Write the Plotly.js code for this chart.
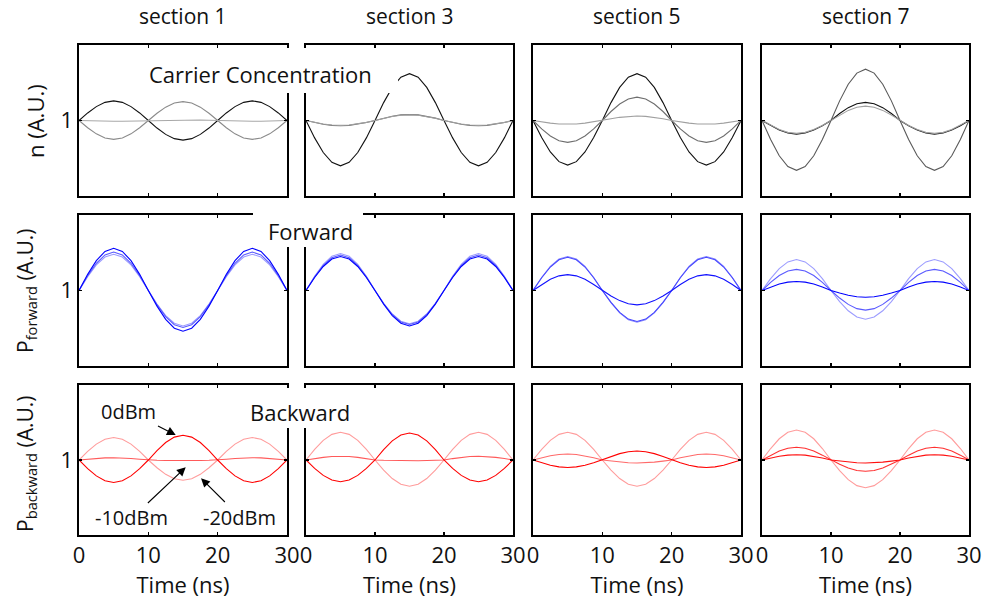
<!DOCTYPE html>
<html>
<head>
<meta charset="utf-8">
<script src="https://cdn.plot.ly/plotly-3.0.1.min.js"></script>
<style>html,body{margin:0;padding:0;background:#fff;}#chart{width:984px;height:603px;}</style>
</head>
<body>
<div id="chart"></div>
<script>
// ---- data ----
const time = [0,1.25,2.5,3.75,5,6.25,7.5,8.75,10,11.25,12.5,13.75,15,16.25,17.5,18.75,20,21.25,22.5,23.75,25,26.25,27.5,28.75,30];
const sectionTitles = ['section 1','section 3','section 5','section 7'];
const xTickVals = [0,10,20,30];
const yTickVals = [1];

// carrier concentration n (row 1)
const n_s1_a = [1,1.100,1.184,1.240,1.260,1.240,1.184,1.100,1,0.900,0.816,0.760,0.740,0.760,0.816,0.900,1,1.100,1.184,1.240,1.260,1.240,1.184,1.100,1];
const n_s1_b = [1,0.904,0.823,0.769,0.750,0.769,0.823,0.904,1,1.096,1.177,1.231,1.250,1.231,1.177,1.096,1,0.904,0.823,0.769,0.750,0.769,0.823,0.904,1];
const n_s1_c = [1,0.996,0.993,0.991,0.990,0.991,0.993,0.996,1,1.004,1.007,1.009,1.010,1.009,1.007,1.004,1,0.996,0.993,0.991,0.990,0.991,0.993,0.996,1];
const n_s3_a = [1,0.770,0.576,0.446,0.400,0.446,0.576,0.770,1,1.237,1.438,1.573,1.620,1.573,1.438,1.237,1,0.770,0.576,0.446,0.400,0.446,0.576,0.770,1];
const n_s3_b = [1,0.973,0.951,0.935,0.930,0.935,0.951,0.973,1,1.031,1.057,1.074,1.080,1.074,1.057,1.031,1,0.973,0.951,0.935,0.930,0.935,0.951,0.973,1];
const n_s3_c = [1,0.975,0.954,0.940,0.935,0.940,0.954,0.975,1,1.029,1.053,1.069,1.075,1.069,1.053,1.029,1,0.975,0.954,0.940,0.935,0.940,0.954,0.975,1];
const n_s5_a = [1,0.774,0.583,0.455,0.410,0.455,0.583,0.774,1,1.237,1.438,1.573,1.620,1.573,1.438,1.237,1,0.774,0.583,0.455,0.410,0.455,0.583,0.774,1];
const n_s5_b = [1,0.889,0.795,0.732,0.710,0.732,0.795,0.889,1,1.119,1.219,1.286,1.310,1.286,1.219,1.119,1,0.889,0.795,0.732,0.710,0.732,0.795,0.889,1];
const n_s5_c = [1,0.981,0.965,0.954,0.950,0.954,0.965,0.981,1,1.023,1.042,1.055,1.060,1.055,1.042,1.023,1,0.981,0.965,0.954,0.950,0.954,0.965,0.981,1];
const n_s7_a = [1,0.747,0.533,0.390,0.340,0.390,0.533,0.747,1,1.260,1.481,1.628,1.680,1.628,1.481,1.260,1,0.747,0.533,0.390,0.340,0.390,0.533,0.747,1];
const n_s7_b = [1,0.931,0.873,0.834,0.820,0.834,0.873,0.931,1,1.092,1.170,1.222,1.240,1.222,1.170,1.092,1,0.931,0.873,0.834,0.820,0.834,0.873,0.931,1];
const n_s7_c = [1,0.935,0.880,0.843,0.830,0.843,0.880,0.935,1,1.073,1.134,1.176,1.190,1.176,1.134,1.073,1,0.935,0.880,0.843,0.830,0.843,0.880,0.935,1];

// forward power (row 2)
const pf_s1_a = [1,1.214,1.396,1.517,1.560,1.517,1.396,1.214,1,0.793,0.618,0.501,0.460,0.501,0.618,0.793,1,1.214,1.396,1.517,1.560,1.517,1.396,1.214,1];
const pf_s1_b = [1,1.195,1.361,1.471,1.510,1.471,1.361,1.195,1,0.812,0.654,0.547,0.510,0.547,0.654,0.812,1,1.195,1.361,1.471,1.510,1.471,1.361,1.195,1];
const pf_s1_c = [1,1.184,1.339,1.444,1.480,1.444,1.339,1.184,1,0.820,0.668,0.566,0.530,0.566,0.668,0.820,1,1.184,1.339,1.444,1.480,1.444,1.339,1.184,1];
const pf_s3_a = [1,1.172,1.318,1.416,1.450,1.416,1.318,1.172,1,0.820,0.668,0.566,0.530,0.566,0.668,0.820,1,1.172,1.318,1.416,1.450,1.416,1.318,1.172,1];
const pf_s3_b = [1,1.180,1.332,1.434,1.470,1.434,1.332,1.180,1,0.828,0.682,0.584,0.550,0.584,0.682,0.828,1,1.180,1.332,1.434,1.470,1.434,1.332,1.180,1];
const pf_s3_c = [1,1.188,1.346,1.453,1.490,1.453,1.346,1.188,1,0.831,0.689,0.593,0.560,0.593,0.689,0.831,1,1.188,1.346,1.453,1.490,1.453,1.346,1.188,1];
const pf_s5_a = [1,1.080,1.148,1.194,1.210,1.194,1.148,1.080,1,0.927,0.866,0.824,0.810,0.824,0.866,0.927,1,1.080,1.148,1.194,1.210,1.194,1.148,1.080,1];
const pf_s5_b = [1,1.169,1.311,1.407,1.440,1.407,1.311,1.169,1,0.843,0.710,0.621,0.590,0.621,0.710,0.843,1,1.169,1.311,1.407,1.440,1.407,1.311,1.169,1];
const pf_s5_c = [1,1.172,1.318,1.416,1.450,1.416,1.318,1.172,1,0.839,0.703,0.612,0.580,0.612,0.703,0.839,1,1.172,1.318,1.416,1.450,1.416,1.318,1.172,1];
const pf_s7_a = [1,1.046,1.085,1.111,1.120,1.111,1.085,1.046,1,0.966,0.936,0.917,0.910,0.917,0.936,0.966,1,1.046,1.085,1.111,1.120,1.111,1.085,1.046,1];
const pf_s7_b = [1,1.107,1.198,1.259,1.280,1.259,1.198,1.107,1,0.900,0.816,0.760,0.740,0.760,0.816,0.900,1,1.107,1.198,1.259,1.280,1.259,1.198,1.107,1];
const pf_s7_c = [1,1.157,1.290,1.379,1.410,1.379,1.290,1.157,1,0.854,0.731,0.649,0.620,0.649,0.731,0.854,1,1.157,1.290,1.379,1.410,1.379,1.290,1.157,1];

// backward power (row 3)
const pb_s1_a = [1,0.885,0.788,0.723,0.700,0.723,0.788,0.885,1,1.126,1.233,1.305,1.330,1.305,1.233,1.126,1,0.885,0.788,0.723,0.700,0.723,0.788,0.885,1];
const pb_s1_b = [1,1.011,1.021,1.028,1.030,1.028,1.021,1.011,1,0.996,0.993,0.991,0.990,0.991,0.993,0.996,1,1.011,1.021,1.028,1.030,1.028,1.021,1.011,1];
const pb_s1_c = [1,1.115,1.212,1.277,1.300,1.277,1.212,1.115,1,0.897,0.809,0.751,0.730,0.751,0.809,0.897,1,1.115,1.212,1.277,1.300,1.277,1.212,1.115,1];
const pb_s3_a = [1,0.889,0.795,0.732,0.710,0.732,0.795,0.889,1,1.138,1.255,1.333,1.360,1.333,1.255,1.138,1,0.889,0.795,0.732,0.710,0.732,0.795,0.889,1];
const pb_s3_b = [1,1.019,1.035,1.046,1.050,1.046,1.035,1.019,1,0.996,0.993,0.991,0.990,0.991,0.993,0.996,1,1.019,1.035,1.046,1.050,1.046,1.035,1.019,1];
const pb_s3_c = [1,1.142,1.262,1.342,1.370,1.342,1.262,1.142,1,0.866,0.753,0.677,0.650,0.677,0.753,0.866,1,1.142,1.262,1.342,1.370,1.342,1.262,1.142,1];
const pb_s5_a = [1,0.962,0.929,0.908,0.900,0.908,0.929,0.962,1,1.046,1.085,1.111,1.120,1.111,1.085,1.046,1,0.962,0.929,0.908,0.900,0.908,0.929,0.962,1];
const pb_s5_b = [1,1.031,1.057,1.074,1.080,1.074,1.057,1.031,1,0.985,0.972,0.963,0.960,0.963,0.972,0.985,1,1.031,1.057,1.074,1.080,1.074,1.057,1.031,1];
const pb_s5_c = [1,1.142,1.262,1.342,1.370,1.342,1.262,1.142,1,0.866,0.753,0.677,0.650,0.677,0.753,0.866,1,1.142,1.262,1.342,1.370,1.342,1.262,1.142,1];
const pb_s7_a = [1,1.027,1.049,1.065,1.070,1.065,1.049,1.027,1,0.985,0.972,0.963,0.960,0.963,0.972,0.985,1,1.027,1.049,1.065,1.070,1.065,1.049,1.027,1];
const pb_s7_b = [1,1.065,1.120,1.157,1.170,1.157,1.120,1.065,1,0.943,0.894,0.861,0.850,0.861,0.894,0.943,1,1.065,1.120,1.157,1.170,1.157,1.120,1.065,1];
const pb_s7_c = [1,1.153,1.283,1.370,1.400,1.370,1.283,1.153,1,0.858,0.738,0.658,0.630,0.658,0.738,0.858,1,1.153,1.283,1.370,1.400,1.370,1.283,1.153,1];

// power-level labels (section 1, backward)
const powerLabels = ['0dBm', '-10dBm', '-20dBm'];

// ---- panel series + styles ----
const panelSeries = [
  [n_s1_a, n_s1_b, n_s1_c], [n_s3_a, n_s3_b, n_s3_c], [n_s5_a, n_s5_b, n_s5_c], [n_s7_a, n_s7_b, n_s7_c],
  [pf_s1_c, pf_s1_b, pf_s1_a], [pf_s3_c, pf_s3_b, pf_s3_a], [pf_s5_c, pf_s5_b, pf_s5_a], [pf_s7_c, pf_s7_b, pf_s7_a],
  [pb_s1_c, pb_s1_b, pb_s1_a], [pb_s3_c, pb_s3_b, pb_s3_a], [pb_s5_c, pb_s5_b, pb_s5_a], [pb_s7_c, pb_s7_b, pb_s7_a]
];
const panelColors = [
  ['#111111','#8a8a8a','#a8a8a8'], ['#111111','#6e6e6e','#a0a0a0'], ['#111111','#6e6e6e','#a0a0a0'], ['#5a5a5a','#111111','#a0a0a0'],
  ['#9c9cff','#5a5aff','#0000ff'], ['#9c9cff','#5a5aff','#0000ff'], ['#8a8aff','#4848ff','#1010ff'], ['#9c9cff','#5a5aff','#0000ff'],
  ['#ff9c9c','#ff5a5a','#ff0000'], ['#ff9c9c','#ff5a5a','#ff0000'], ['#ff9c9c','#ff6a6a','#ff0000'], ['#ff9c9c','#ff3030','#ff1010']
];

const W = 984, H = 603;
const FONT = 'Open Sans, Noto Sans, sans-serif';
const colPx = [[79,287],[306,513],[533,741],[762,969]];
const rowPx = [[45,196],[215,366],[385,535]];
const px = v => v / W;
const py = v => 1 - v / H;

const traces = [];
const layout = {
  width: W, height: H,
  margin: {l:0, r:0, t:0, b:0},
  paper_bgcolor: '#fff', plot_bgcolor: '#fff',
  showlegend: false,
  font: {family: FONT, color: '#111', size: 20},
  annotations: [], shapes: []
};

for (let r = 0; r < 3; r++) {
  for (let c = 0; c < 4; c++) {
    const i = r * 4 + c;
    const id = i === 0 ? '' : String(i + 1);
    panelSeries[i].forEach((ys, k) => {
      traces.push({
        x: time, y: ys, xaxis: 'x' + id, yaxis: 'y' + id,
        type: 'scatter', mode: 'lines',
        line: {color: panelColors[i][k], width: 1.1},
        hoverinfo: 'skip'
      });
    });
    const common = {
      showline: true, linecolor: '#000', linewidth: 1.6, mirror: 'ticks',
      ticks: 'inside', ticklen: 3, tickwidth: 1.5, tickcolor: '#000',
      showgrid: false, zeroline: false, fixedrange: true,
      tickfont: {family: FONT, size: 22, color: '#111'}
    };
    const xa = Object.assign({}, common, {
      domain: [px(colPx[c][0]), px(colPx[c][1])],
      range: [0, 30], tickmode: 'array', tickvals: xTickVals,
      showticklabels: r === 2, anchor: 'y' + id
    });
    if (r === 2) xa.title = {text: 'Time (ns)', font: {family: FONT, size: 22, color: '#111'}, standoff: 6};
    layout['xaxis' + id] = xa;
    layout['yaxis' + id] = Object.assign({}, common, {
      domain: [py(rowPx[r][1]), py(rowPx[r][0])],
      range: [0, 2], tickmode: 'array', tickvals: yTickVals, ticktext: ['1'],
      showticklabels: c === 0, anchor: 'x' + id
    });
  }
}

// column titles
sectionTitles.forEach((t, c) => {
  layout.annotations.push({
    xref: 'paper', yref: 'paper', x: px((colPx[c][0] + colPx[c][1]) / 2), y: py(16),
    xanchor: 'center', yanchor: 'middle', showarrow: false, text: t,
    font: {family: FONT, size: 21, color: '#111'}
  });
});

// y axis labels
[['n (A.U.)', 35, 121, 22], ['P<sub>forward</sub> (A.U.)', 26, 291, 21], ['P<sub>backward</sub> (A.U.)', 26, 464, 21]].forEach(d => {
  layout.annotations.push({
    xref: 'paper', yref: 'paper', x: px(d[1]), y: py(d[2]), xanchor: 'center', yanchor: 'middle',
    textangle: -90, showarrow: false, text: d[0], font: {family: FONT, size: d[3], color: '#111'}
  });
});

// white masks behind row labels
[[145, 48, 398, 93], [253, 205, 363, 247], [245, 388, 357, 428]].forEach(b => {
  layout.shapes.push({
    type: 'rect', xref: 'paper', yref: 'paper', layer: 'above',
    x0: px(b[0]), x1: px(b[2]), y0: py(b[3]), y1: py(b[1]),
    fillcolor: '#fff', line: {width: 0}
  });
});

// row labels
[['Carrier Concentration', 260, 74], ['Forward', 310, 231], ['Backward', 300, 412]].forEach(d => {
  layout.annotations.push({
    xref: 'paper', yref: 'paper', x: px(d[1]), y: py(d[2]), xanchor: 'center', yanchor: 'middle',
    showarrow: false, text: d[0], font: {family: FONT, size: 22, color: '#111'}
  });
});

// labelled arrows in section 1 backward panel: [tipX, tipY, labelX, labelY]
[[13.95, 1.333, 7.21, 1.653], [15.39, 0.903, 7.64, 0.227], [17.6, 0.756, 23.22, 0.24]].forEach((a, k) => {
  layout.annotations.push({
    xref: 'x9', yref: 'y9', axref: 'x9', ayref: 'y9',
    x: a[0], y: a[1], ax: a[2], ay: a[3], text: powerLabels[k],
    font: {family: FONT, size: 20, color: '#111'},
    showarrow: true, arrowhead: 2, arrowsize: 1.6, arrowwidth: 1.1, arrowcolor: '#000', standoff: 0, startstandoff: 0
  });
});

Plotly.newPlot('chart', traces, layout, {displayModeBar: false, staticPlot: true});
</script>
</body>
</html>
